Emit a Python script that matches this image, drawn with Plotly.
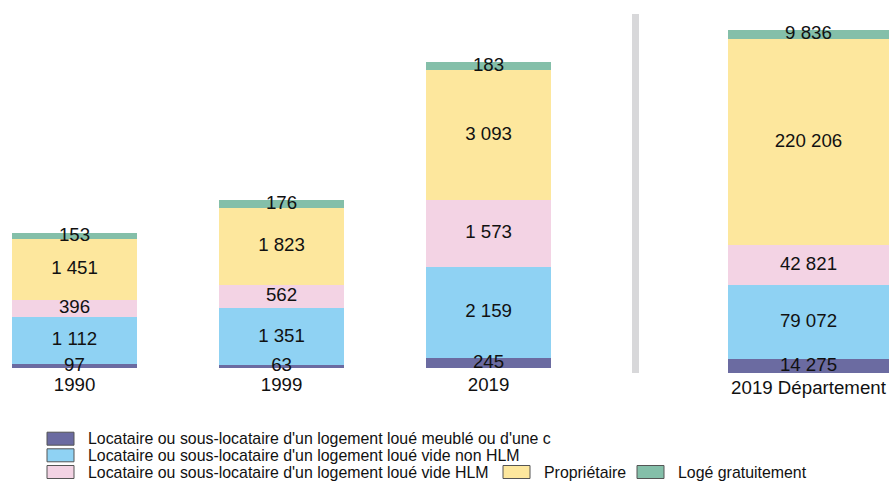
import plotly.graph_objects as go
import numpy as np

# ---- data ----
categories = ["1990", "1999", "2019"]
dept_category = ["2019 Département"]
series_names = [
    "Locataire ou sous-locataire d'un logement loué meublé ou d'une c",
    "Locataire ou sous-locataire d'un logement loué vide non HLM",
    "Locataire ou sous-locataire d'un logement loué vide HLM",
    "Propriétaire",
    "Logé gratuitement",
]
meuble = [97, 63, 245]
non_hlm = [1112, 1351, 2159]
hlm = [396, 562, 1573]
proprietaire = [1451, 1823, 3093]
gratuit = [153, 176, 183]
dept_values = [14275, 79072, 42821, 220206, 9836]

series_values = [meuble, non_hlm, hlm, proprietaire, gratuit]
colors = ["#6b6ba1", "#8fd2f3", "#f3d3e4", "#fde79d", "#84bfa9"]

W, H = 889, 483
FONT = "Liberation Sans, Arial, sans-serif"
LBL = 18.7


def fmt(v):
    return f"{v:,}".replace(",", " ")


def px(x):
    return x / W


def py(y):
    return 1 - y / H


fig = go.Figure()

# bars
for name, vals, col, dv in zip(series_names, series_values, colors, dept_values):
    fig.add_trace(go.Bar(
        x=categories, y=vals, name=name, marker=dict(color=col, line=dict(width=0)),
        width=0.604, xaxis="x", yaxis="y", showlegend=False, hoverinfo="skip",
    ))
    fig.add_trace(go.Bar(
        x=dept_category, y=[dv], name=name, marker=dict(color=col, line=dict(width=0)),
        width=0.778, xaxis="x2", yaxis="y2", showlegend=False, hoverinfo="skip",
    ))

# value labels, centred on each stacked segment (drawn above all bars)
left = np.array(series_values, dtype=float)
left_mid = np.cumsum(left, axis=0) - left / 2
dept = np.array(dept_values, dtype=float)
dept_mid = np.cumsum(dept) - dept / 2

for i, name in enumerate(series_names):
    fig.add_trace(go.Scatter(
        x=categories, y=left_mid[i], mode="text",
        text=[fmt(v) for v in series_values[i]], textposition="middle center",
        textfont=dict(family=FONT, size=LBL, color="#111111"),
        xaxis="x", yaxis="y", showlegend=False, hoverinfo="skip", cliponaxis=False,
    ))
fig.add_trace(go.Scatter(
    x=dept_category * len(dept_values), y=dept_mid, mode="text",
    text=[fmt(v) for v in dept_values], textposition="middle center",
    textfont=dict(family=FONT, size=LBL, color="#111111"),
    xaxis="x2", yaxis="y2", showlegend=False, hoverinfo="skip", cliponaxis=False,
))

# separator
shapes = [dict(type="rect", xref="paper", yref="paper",
               x0=px(632), x1=px(639), y0=py(373), y1=py(14),
               fillcolor="#d8d8da", line=dict(width=0), layer="below")]

# legend (swatch + label per series)
legend_pos = [(47, 438.7), (47, 455.3), (47, 472.0), (503, 472.0), (637, 472.0)]
annotations = []
for name, col, (lx, ly) in zip(series_names, colors, legend_pos):
    shapes.append(dict(type="rect", xref="paper", yref="paper",
                       x0=px(lx), x1=px(lx + 27), y0=py(ly + 6.5), y1=py(ly - 6.5),
                       fillcolor=col, line=dict(color="#555555", width=1)))
    annotations.append(dict(xref="paper", yref="paper", x=px(lx + 39), y=py(ly),
                            xanchor="left", yanchor="middle", text=name, showarrow=False,
                            font=dict(family=FONT, size=15.9, color="#111111")))

fig.update_layout(
    width=W, height=H,
    margin=dict(l=0, r=0, t=0, b=0),
    paper_bgcolor="white", plot_bgcolor="rgba(0,0,0,0)",
    barmode="stack",
    font=dict(family=FONT, size=LBL, color="#111111"),
    xaxis=dict(domain=[0, px(632)], range=[-0.36, 2.693], showgrid=False, zeroline=False,
               showline=False, ticks="", tickfont=dict(size=LBL), fixedrange=True,
               anchor="free", position=py(368), ticklabelstandoff=3),
    yaxis=dict(domain=[py(390), 1], range=[-521.5, 8722.5], visible=False,
               fixedrange=True),
    xaxis2=dict(domain=[px(640), 1], range=[-0.814, 0.389], showgrid=False, zeroline=False,
                showline=False, ticks="", tickfont=dict(size=LBL), fixedrange=True,
                anchor="free", position=py(372.7), ticklabelstandoff=2),
    yaxis2=dict(domain=[py(390), 1], range=[-18487, 398269], visible=False, anchor="x2",
                fixedrange=True),
    shapes=shapes,
    annotations=annotations,
)

fig.write_html("out.html", config={"displayModeBar": False},
               post_script="document.body.style.margin='0';")
